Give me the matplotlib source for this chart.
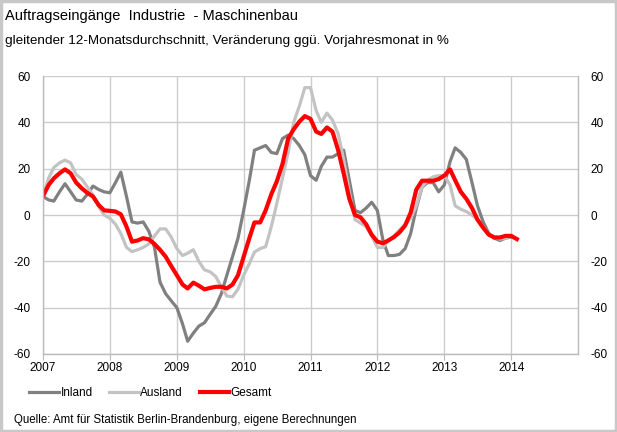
import matplotlib
matplotlib.use("Agg")
import matplotlib.pyplot as plt
import pandas as pd
from matplotlib.patches import Rectangle

plt.rcParams['font.family'] = ['Liberation Sans', 'DejaVu Sans']

title = "Auftragseingänge  Industrie  - Maschinenbau"
subtitle = "gleitender 12-Monatsdurchschnitt, Veränderung ggü. Vorjahresmonat in %"
source = "Quelle: Amt für Statistik Berlin-Brandenburg, eigene Berechnungen"

inland = [8, 6.5, 6, 10, 13.5, 10, 6.5, 6, 9, 12.5, 11, 10, 9.6, 14, 18.5, 8,
          -3, -3.5, -3, -7, -14, -29, -34, -37, -40, -47, -54.5, -51, -48, -46.5,
          -43, -39.5, -34, -26, -18, -10, 2, 15, 28, 29, 30, 27, 26.5, 33, 34.5,
          33, 30, 26, 17, 15, 21, 25, 25, 26.5, 28, 15, 2, 1, 3, 5.5, 2, -11,
          -17.5, -17.5, -17, -14.5, -8, 3, 12, 14, 14, 10, 13, 23, 29, 27, 24,
          14, 4, -3, -8, -10, -11, -10, -9.5]
ausland = [8, 16, 20.5, 22.5, 23.7, 22.5, 17.5, 15.5, 12, 8.6, 3.6, 0, -1.4, -4,
           -8, -14, -15.8, -15, -14, -12.5, -9, -6, -6, -9.5, -14.5, -17.5, -16.5,
           -15, -20, -23.7, -24.5, -26.5, -31, -35, -35.3, -32, -26, -21, -16,
           -14.5, -13.7, -5, 5, 16, 27, 40, 47, 55, 55, 45, 40, 44, 41, 35, 24, 10,
           -2, -3.5, -5, -9, -14, -14, -11, -9, -6.5, -4, -1.5, 4, 12, 15, 16.5,
           17, 17, 13, 4, 2.5, 1.5, 0, -2, -5, -8, -9.5, -10.4, -10, -9]
gesamt = [8.2, 13, 15.8, 18, 19.7, 18, 14, 11.5, 9.5, 8, 4.3, 2, 1.8, 1.5, 0.3,
          -5, -11.5, -11, -10, -10.5, -12.5, -15, -18, -22, -26, -30, -31.7,
          -29.2, -30.5, -32.1, -31.5, -31, -31, -31.7, -30, -26, -18, -10, -3.2,
          -3.2, 2, 9, 14.5, 22, 33, 37, 40.3, 42.7, 41.5, 36, 35, 37.8, 36, 28,
          18, 7, 0, -1, -4, -8.5, -11.5, -12.2, -11, -9.5, -7.5, -4.5, 1, 11,
          14.8, 14.8, 14.8, 15.5, 17, 19.7, 15, 10, 7, 3, -2, -5.5, -8.5, -9.7,
          -9.7, -9, -9, -10.4]

series_names = ["Inland", "Ausland", "Gesamt"]
years = [2007, 2008, 2009, 2010, 2011, 2012, 2013, 2014]
yticks = [-60, -40, -20, 0, 20, 40, 60]

d_in = pd.date_range("2007-01-01", periods=len(inland), freq="MS")
d_aus = pd.date_range("2007-01-01", periods=len(ausland), freq="MS")
d_ges = pd.date_range("2007-01-01", periods=len(gesamt), freq="MS")

fig = plt.figure(figsize=(6.17, 4.32), dpi=100)
fig.patch.set_facecolor("white")
fig.patches.append(Rectangle((0.002, 0.002), 0.996, 0.996, transform=fig.transFigure,
                             fill=False, edgecolor="#c8c8c8", linewidth=2.5))

ax = fig.add_axes([0.0697, 0.1806, 0.8671, 0.6434])
ax.plot(d_in, inland, color="#808080", lw=2.3, label=series_names[0], solid_joinstyle="round")
ax.plot(d_aus, ausland, color="#c3c3c3", lw=2.3, label=series_names[1], solid_joinstyle="round")
ax.plot(d_ges, gesamt, color="#ff0000", lw=3.0, label=series_names[2], solid_joinstyle="round")

ax.set_xlim(pd.Timestamp("2007-01-01"), pd.Timestamp("2015-01-01"))
ax.set_ylim(-60, 60)
ax.set_yticks(yticks)
ax.set_yticklabels([str(v) for v in yticks])
ax.set_xticks([pd.Timestamp(f"{y}-01-01") for y in years])
ax.set_xticklabels([str(y) for y in years])
ax.grid(True, color="#cccccc", lw=1.0)
ax.set_axisbelow(True)
ax.spines["top"].set_visible(False)
for s in ["left", "bottom", "right"]:
    ax.spines[s].set_color("#bbbbbb")
    ax.spines[s].set_linewidth(1.0)
ax.tick_params(axis="y", which="both", length=0, labelsize=8.5, labelright=True,
               pad=9, colors="black")
ax.tick_params(axis="y", which="both", labelleft=True)
ax.tick_params(axis="x", length=4, color="#bbbbbb", labelsize=8.5, pad=2, direction="out")
for lab in ax.get_yticklabels():
    pass

fig.text(0.008, 0.962, title, fontsize=10.5, ha="left", va="center")
fig.text(0.008, 0.905, subtitle, fontsize=9.7, ha="left", va="center")
fig.text(0.023, 0.028, source, fontsize=8.3, ha="left", va="center")

fig.legend(loc="center left", bbox_to_anchor=(0.03, 0.09), ncol=3, frameon=False,
           fontsize=8.5, handlelength=2.5, handletextpad=0.15, columnspacing=1.4)

fig.savefig("out.png", dpi=100)
